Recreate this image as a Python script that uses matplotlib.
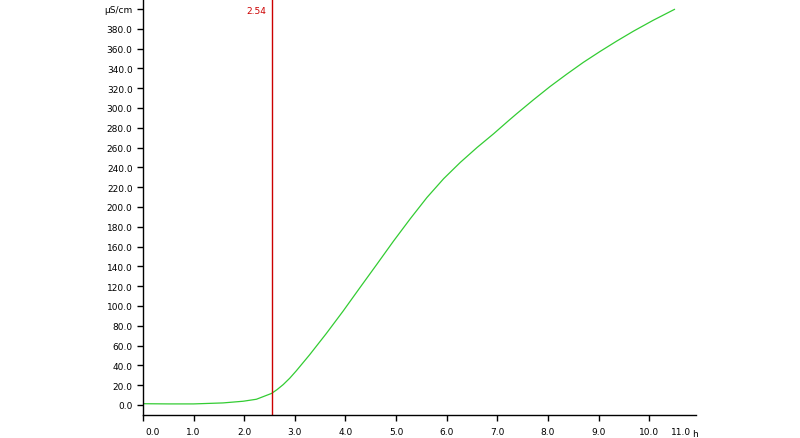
import matplotlib
matplotlib.use("Agg")
import matplotlib.pyplot as plt
import matplotlib.transforms as mtransforms

# Data
hours = [0.0, 0.5, 1.0, 1.58, 1.98, 2.24, 2.54, 2.65, 2.77, 2.90, 3.03, 3.29, 3.62, 3.95,
         4.28, 4.62, 4.95, 5.28, 5.61, 5.94, 6.27, 6.60, 6.93, 7.22, 7.38, 7.71, 8.04,
         8.37, 8.70, 9.03, 9.36, 9.69, 10.08, 10.50]
conductivity = [1.2, 1.0, 1.0, 2.0, 3.7, 5.7, 11.6, 15.5, 20.5, 27.0, 34.5, 50.5, 72.0, 94.5,
                118.0, 142.0, 165.5, 188.0, 209.5, 228.5, 245.0, 260.0, 274.0, 287.0, 294.0,
                308.0, 321.5, 334.0, 346.0, 357.0, 367.5, 377.5, 388.5, 399.5]
marker_x = 2.54
x_ticks = [0, 1, 2, 3, 4, 5, 6, 7, 8, 9, 10]
x_tick_labels = ["0.0", "1.0", "2.0", "3.0", "4.0", "5.0", "6.0", "7.0", "8.0", "9.0", "10.0"]
y_ticks = list(range(0, 401, 20))
y_tick_labels = [f"{v:.1f}" for v in y_ticks[:-1]] + ["µS/cm"]
x_unit = "h"

fig = plt.figure(figsize=(8.0, 4.39), dpi=100)
ax = fig.add_axes([143 / 800, 23 / 439, (695.7 - 143) / 800, 416 / 439])

ax.plot(hours, conductivity, color="#33cc33", linewidth=0.9, solid_joinstyle="round")
ax.axvline(marker_x, color="#cc0000", linewidth=1.0)
ax.annotate(f"{marker_x:.2f}", xy=(marker_x, 1.0), xycoords=("data", "axes fraction"),
            xytext=(-5, -11), textcoords="offset pixels", ha="right", va="center",
            color="#cc0000", fontsize=6.5)

ax.set_xlim(0, 10.92)
ax.set_ylim(-10.2, 410)

for s in ("top", "right"):
    ax.spines[s].set_visible(False)
for s in ("left", "bottom"):
    ax.spines[s].set_linewidth(1.0)
    ax.spines[s].set_color("black")

ax.set_xticks(x_ticks)
ax.set_xticklabels(x_tick_labels, fontsize=6.5)
ax.set_yticks(y_ticks)
ax.set_yticklabels(y_tick_labels, fontsize=6.5)
ax.tick_params(axis="x", direction="out", length=4, width=1, pad=4.8)
ax.tick_params(axis="y", direction="out", length=4, width=1, pad=3.5)

# first x label starts at the axis
lbls = ax.get_xticklabels()
lbls[0].set_horizontalalignment("left")
offset = mtransforms.ScaledTranslation(2 / 100, 0, fig.dpi_scale_trans)
lbls[0].set_transform(lbls[0].get_transform() + offset)

# 11.0 label and unit
trans = mtransforms.blended_transform_factory(ax.transData, ax.transAxes)
ax.text(10.0 + (688 - 646.3) / 50.6, -17 / 416, "11.0", transform=trans,
        ha="right", va="center", fontsize=6.5, clip_on=False)
ax.text(10.0 + (689 - 646.3) / 50.6, -18.5 / 416, x_unit, transform=trans,
        ha="left", va="center", fontsize=6.5, clip_on=False)

fig.savefig("out.png", dpi=100)
